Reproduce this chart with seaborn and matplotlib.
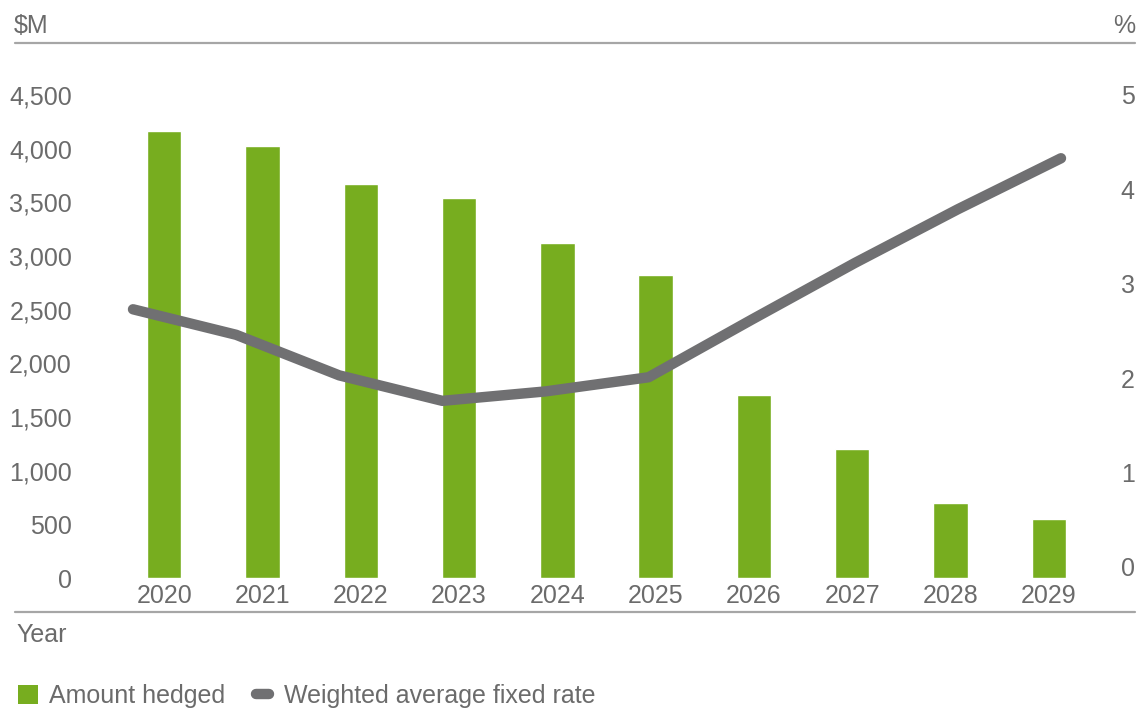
import matplotlib
matplotlib.use("Agg")
import matplotlib.pyplot as plt
from matplotlib.lines import Line2D
from matplotlib.patches import Patch
from matplotlib.legend_handler import HandlerLine2D
import numpy as np
import pandas as pd
import seaborn as sns

# Hedging profile by year
years = ["2020", "2021", "2022", "2023", "2024", "2025", "2026", "2027", "2028", "2029"]
amount_hedged = [4165, 4025, 3670, 3540, 3120, 2825, 1705, 1200, 700, 550]          # $M
weighted_avg_rate = [2.73, 2.46, 2.03, 1.76, 1.86, 2.01, 2.62, 3.22, 3.79, 4.33]    # %

left_ticks = [0, 500, 1000, 1500, 2000, 2500, 3000, 3500, 4000, 4500]
right_ticks = [0, 1, 2, 3, 4, 5]

GREEN = "#77ad1f"
LINE_GREY = "#707072"
TEXT = "#6b6b6b"
RULE = "#a6a6a6"
FONT = "Liberation Sans"
FS = 18

sns.set_theme(style="white")
plt.rcParams["font.family"] = [FONT, "DejaVu Sans"]

df = pd.DataFrame({"Year": years, "Amount": amount_hedged, "Rate": weighted_avg_rate})

W, H = 1142, 709
fig = plt.figure(figsize=(W / 100, H / 100), dpi=100)


def px_axes(x0, y_top, x1, y_bot):
    return fig.add_axes([x0 / W, 1 - y_bot / H, (x1 - x0) / W, (y_bot - y_top) / H])


# Bars: amount hedged on the left scale
ax = px_axes(115, 95, 1098, 578)
sns.barplot(data=df, x="Year", y="Amount", color=GREEN, saturation=1, width=0.35, ax=ax)
ax.set_xlim(-0.5, len(years) - 0.5)
ax.set_ylim(0, 4500)
ax.set_yticks(left_ticks)
ax.set_yticklabels([f"{v:,}" for v in left_ticks])
ax.set_xlabel("")
ax.set_ylabel("")
for s in ax.spines.values():
    s.set_visible(False)
ax.tick_params(axis="y", length=0, pad=31, labelsize=FS, labelcolor=TEXT)
ax.tick_params(axis="x", length=0, pad=4, labelsize=FS, labelcolor=TEXT)
ax.grid(False)
ax.patch.set_alpha(0)

# Line: weighted average fixed rate on the right scale
lax = px_axes(133, 95, 1061, 567)
sns.lineplot(data=df, x="Year", y="Rate", color=LINE_GREY, linewidth=7.5, ax=lax,
             sort=False)
for ln in lax.lines:
    ln.set_solid_capstyle("round")
    ln.set_solid_joinstyle("round")
    ln.set_clip_on(False)
lax.set_xlim(0, len(years) - 1)
lax.set_ylim(0, 5)
lax.set_xticks([])
lax.set_xlabel("")
lax.set_ylabel("")
lax.yaxis.tick_right()
lax.set_yticks(right_ticks)
lax.set_yticklabels([str(v) for v in right_ticks], ha="right")
lax.tick_params(axis="y", length=0, pad=53, labelsize=FS, labelcolor=TEXT)
for s in lax.spines.values():
    s.set_visible(False)
lax.grid(False)
lax.patch.set_alpha(0)

# Header and footer rules with unit labels
fig.add_artist(Line2D([15 / W, 1135 / W], [1 - 43 / H] * 2, color=RULE, lw=1.6))
fig.add_artist(Line2D([15 / W, 1135 / W], [1 - 612 / H] * 2, color=RULE, lw=1.6))
fig.text(14 / W, 1 - 26 / H, "$M", color=TEXT, fontsize=FS, va="center", ha="left")
fig.text(1135 / W, 1 - 26 / H, "%", color=TEXT, fontsize=FS, va="center", ha="right")
fig.text(16 / W, 1 - 635 / H, "Year", color=TEXT, fontsize=FS, va="center", ha="left")


class ShortPill(HandlerLine2D):
    """Legend line drawn as a short rounded pill."""

    def create_artists(self, legend, orig_handle, xdescent, ydescent, width, height,
                       fontsize, trans):
        artists = super().create_artists(legend, orig_handle, xdescent, ydescent, width,
                                         height, fontsize, trans)
        for a in artists:
            xd = np.asarray(a.get_xdata(), dtype=float)
            yd = np.asarray(a.get_ydata(), dtype=float)
            if a.get_linestyle() not in ("None", "none", "") and xd.size >= 2:
                a.set_data([xd.min() + 2.5, xd.max() - 2.5], [yd[0], yd[0]])
        return artists


# Legend
pill = Line2D([], [], color=LINE_GREY, lw=7.5, solid_capstyle="round",
              label="Weighted average fixed rate")
handles = [Patch(facecolor=GREEN, edgecolor="none", label="Amount hedged"), pill]
leg = fig.legend(handles=handles, loc="center left", bbox_to_anchor=(18 / W, 1 - 696 / H),
                 ncol=2, frameon=False, fontsize=FS, handlelength=0.8, handleheight=0.8,
                 handletextpad=0.45, columnspacing=1.1, borderaxespad=0, borderpad=0,
                 handler_map={pill: ShortPill()})
for t in leg.get_texts():
    t.set_color(TEXT)

fig.savefig("out.png", dpi=100)
